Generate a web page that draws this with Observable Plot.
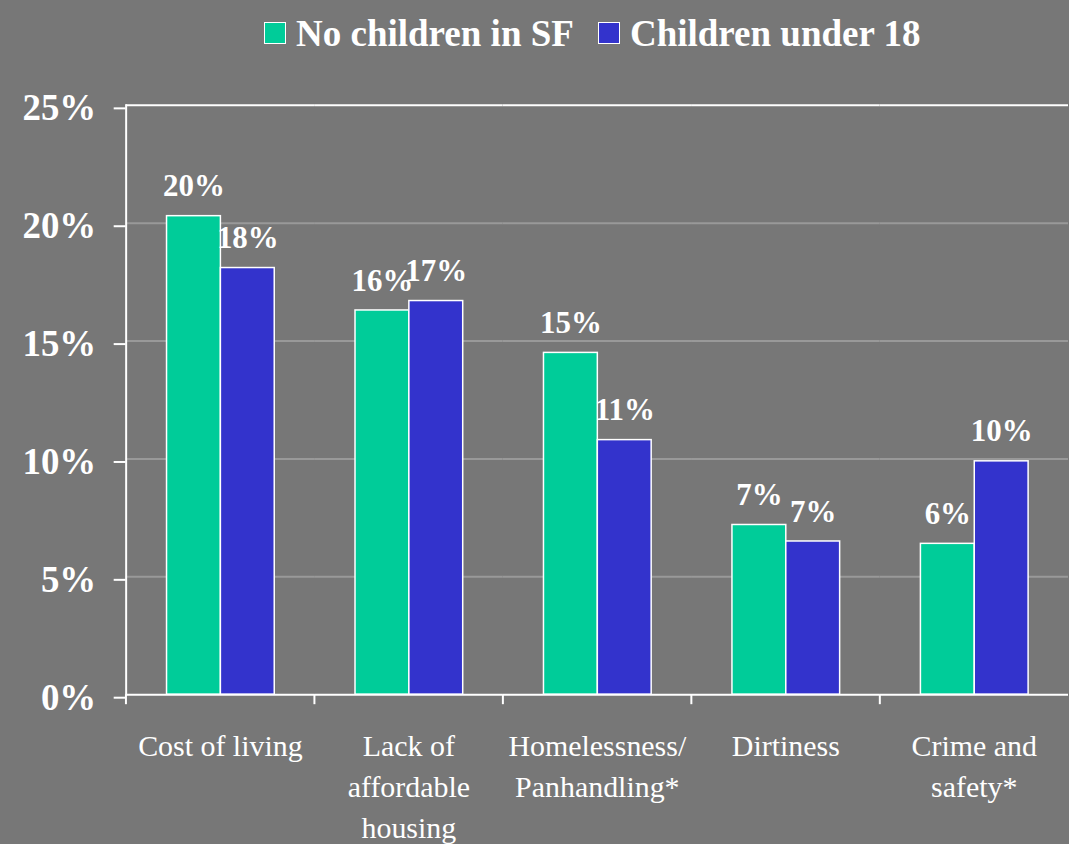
<!DOCTYPE html>
<html><head><meta charset="utf-8">
<script src="https://cdn.jsdelivr.net/npm/d3@7"></script>
<script src="https://cdn.jsdelivr.net/npm/@observablehq/plot@0.6"></script>
<style>
html,body{margin:0;padding:0;background:#777;overflow:hidden;width:1069px;height:844px}
#legend{height:60px;box-sizing:border-box;padding-top:6px;padding-left:264px;display:flex;align-items:center;align-self:flex-start;font:bold 37px "Liberation Serif",serif;line-height:37px;color:#fff;white-space:nowrap}
#legend .item{display:flex;align-items:center;margin-right:24px}
#legend .sw{width:20px;height:20px;border:1.5px solid #fff;margin-right:10px}
#chart svg{display:block}
</style></head>
<body>
<div id="legend"></div>
<div id="chart"></div>
<script>
const categories = ["Cost of living", "Lack of\naffordable\nhousing", "Homelessness/\nPanhandling*", "Dirtiness", "Crime and\nsafety*"];
const series = ["No children in SF", "Children under 18"];
const noChildren = [20.3, 16.3, 14.5, 7.2, 6.4];
const withChildren = [18.1, 16.7, 10.8, 6.5, 9.9];
const colors = ["#00CC99", "#3333CC"];
const yTicks = [0, 5, 10, 15, 20, 25];
const gridTicks = [5, 10, 15, 20];

const data = categories.flatMap((c, i) => [
  {category: c, series: series[0], value: noChildren[i]},
  {category: c, series: series[1], value: withChildren[i]}
]);

// legend
const legend = d3.select("#legend");
series.forEach((s, i) => {
  const it = legend.append("div").attr("class", "item");
  it.append("div").attr("class", "sw").style("background", colors[i]);
  it.append("span").text(s);
});

const W = 1072, ML = 125, MR = 0;
const halfBand = (W - ML - MR) / categories.length / 2;

const chart = Plot.plot({
  width: W, height: 784,
  marginTop: 45, marginLeft: ML, marginRight: MR, marginBottom: 148,
  style: {background: "#777", color: "#fff", fontFamily: '"Liberation Serif", serif', overflow: "visible"},
  fx: {domain: categories, padding: 0, label: null},
  x: {domain: series, paddingInner: 0, paddingOuter: 0.72, axis: null},
  y: {domain: [0, 25], label: null},
  color: {domain: series, range: colors},
  marks: [
    Plot.ruleY(gridTicks, {stroke: "#999", strokeWidth: 2}),
    Plot.ruleY([25], {stroke: "#fff", strokeWidth: 2}),
    Plot.barY(data, {fx: "category", x: "series", y: "value", fill: "series", stroke: "#fff", strokeWidth: 1.5}),
    Plot.ruleY([0], {stroke: "#fff", strokeWidth: 2}),
    Plot.frame({anchor: "left", facet: "super", stroke: "#fff", strokeWidth: 2}),
    Plot.axisY(yTicks, {tickSize: 12, tickPadding: 18, fontSize: 37, fontWeight: "bold", tickFormat: d => d + "%", strokeWidth: 2, dy: 3, label: null}),
    Plot.axisFx({anchor: "bottom", tickSize: 10, tickFormat: () => "", dx: -halfBand, strokeWidth: 2, label: null}),
    Plot.axisFx({anchor: "bottom", tickSize: 0, tickPadding: 32, fontSize: 30, lineHeight: 1.38, label: null}),
    Plot.text(data, {fx: "category", x: "series", y: "value", text: d => Math.round(d.value) + "%", lineAnchor: "bottom", dy: -20, fill: "#fff", fontSize: 31, fontWeight: "bold"})
  ]
});
document.getElementById("chart").appendChild(chart);
</script>
</body></html>
